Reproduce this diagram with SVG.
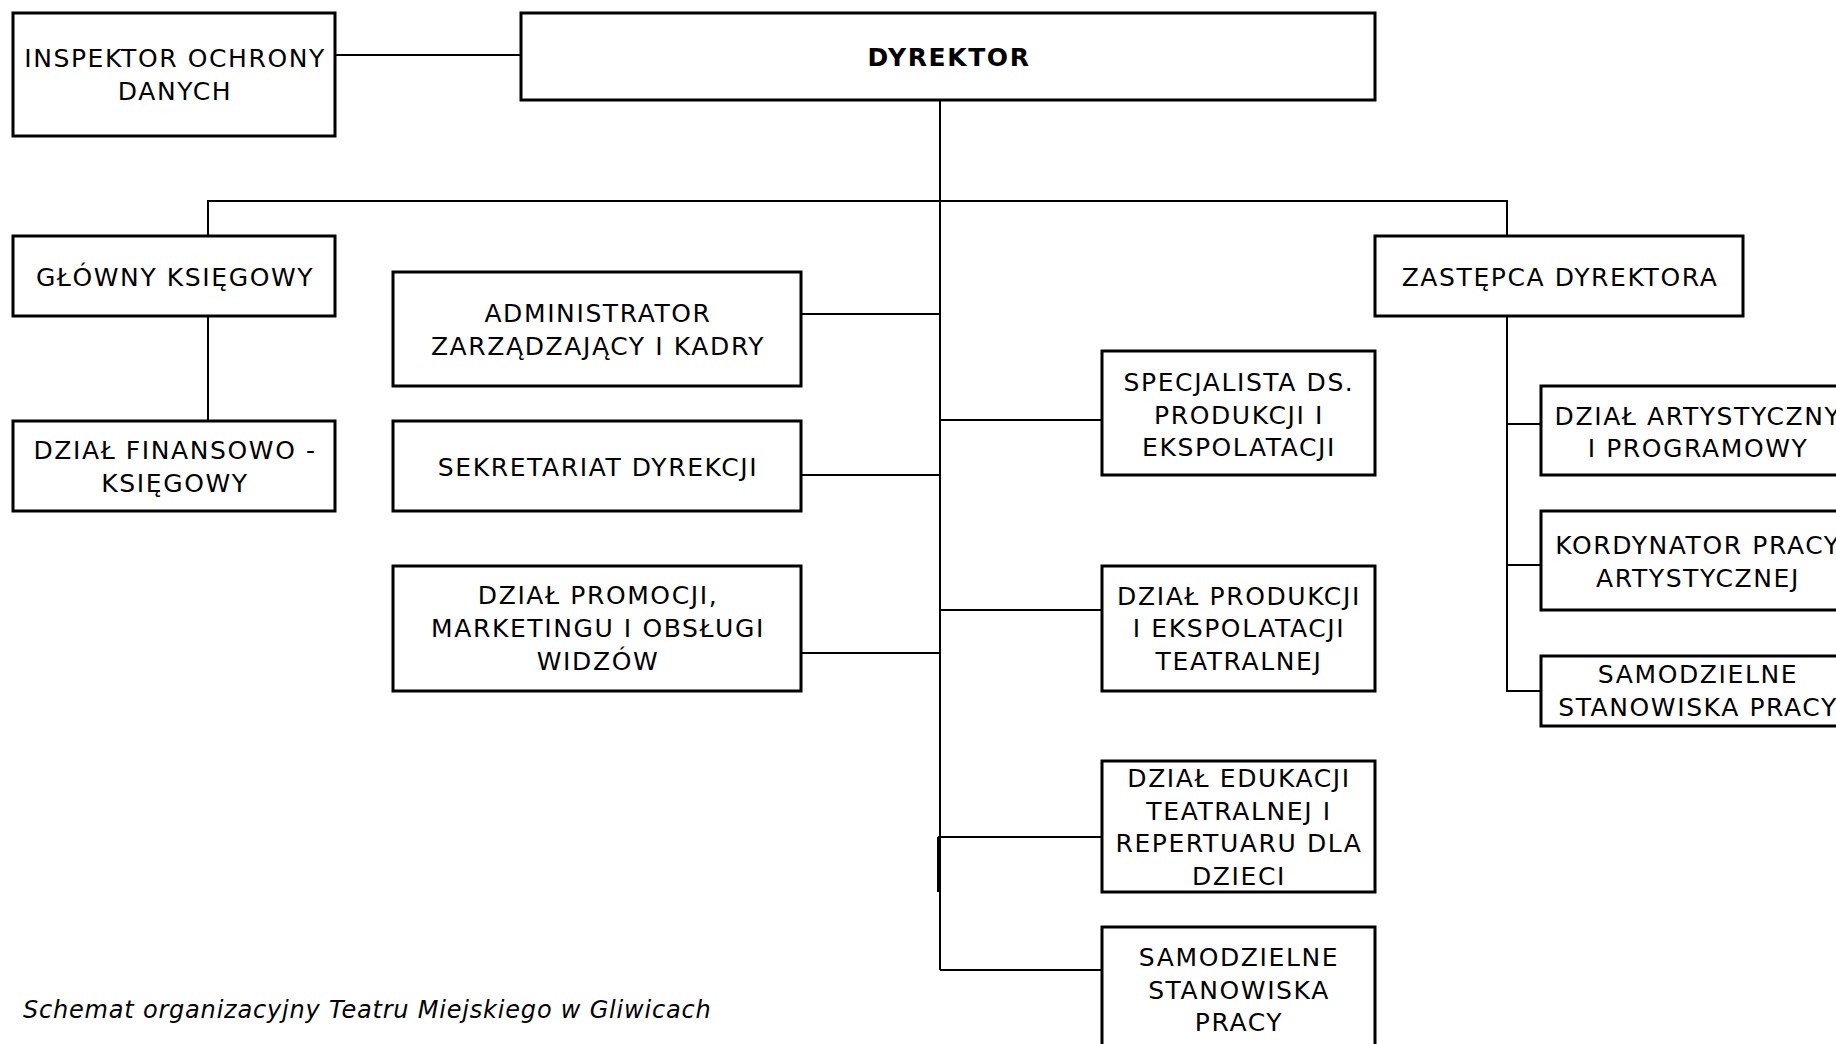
<svg xmlns="http://www.w3.org/2000/svg" width="1836" height="1044" viewBox="0 0 1836 1044">
<style>
.box{fill:#fff;stroke:#000;stroke-width:3}
.c{fill:none;stroke:#000;stroke-width:2}
text{font-family:"DejaVu Sans","Liberation Sans",sans-serif;font-size:25px;letter-spacing:1.6px;fill:#000;text-anchor:middle}
.b{font-weight:bold}
.cap{font-style:italic;text-anchor:start;font-size:24px;letter-spacing:0.8px}
</style>
<rect width="1836" height="1044" fill="#fff"/>
<g id="connectors">
<line class="c" x1="335" y1="55" x2="521" y2="55"/>
<line class="c" x1="940" y1="100" x2="940" y2="970"/>
<line class="c" x1="938" y1="837" x2="938" y2="892"/>
<polyline class="c" points="208,236 208,201 1507,201 1507,236"/>
<line class="c" x1="208" y1="316" x2="208" y2="421"/>
<line class="c" x1="801" y1="314" x2="940" y2="314"/>
<line class="c" x1="801" y1="475" x2="940" y2="475"/>
<line class="c" x1="801" y1="653" x2="940" y2="653"/>
<line class="c" x1="940" y1="420" x2="1102" y2="420"/>
<line class="c" x1="940" y1="610" x2="1102" y2="610"/>
<line class="c" x1="938" y1="837" x2="1102" y2="837"/>
<line class="c" x1="940" y1="970" x2="1102" y2="970"/>
<polyline class="c" points="1507,316 1507,691 1541,691"/>
<line class="c" x1="1507" y1="424" x2="1541" y2="424"/>
<line class="c" x1="1507" y1="565" x2="1541" y2="565"/>
</g>
<g id="inspektor"><rect class="box" x="13" y="13" width="322" height="123"/><text x="175" y="67">INSPEKTOR OCHRONY</text><text x="175" y="100">DANYCH</text></g>
<g id="dyrektor"><rect class="box" x="521" y="13" width="854" height="87"/><text class="b" x="949" y="66">DYREKTOR</text></g>
<g id="glowny"><rect class="box" x="13" y="236" width="322" height="80"/><text x="175" y="286">GŁÓWNY KSIĘGOWY</text></g>
<g id="finansowy"><rect class="box" x="13" y="421" width="322" height="90"/><text x="175" y="459">DZIAŁ FINANSOWO -</text><text x="175" y="492">KSIĘGOWY</text></g>
<g id="administrator"><rect class="box" x="393" y="272" width="408" height="114"/><text x="598" y="322">ADMINISTRATOR</text><text x="598" y="355">ZARZĄDZAJĄCY I KADRY</text></g>
<g id="sekretariat"><rect class="box" x="393" y="421" width="408" height="90"/><text x="598" y="476">SEKRETARIAT DYREKCJI</text></g>
<g id="promocja"><rect class="box" x="393" y="566" width="408" height="125"/><text x="598" y="604">DZIAŁ PROMOCJI,</text><text x="598" y="637">MARKETINGU I OBSŁUGI</text><text x="598" y="670">WIDZÓW</text></g>
<g id="specjalista"><rect class="box" x="1102" y="351" width="273" height="124"/><text x="1239" y="391">SPECJALISTA DS.</text><text x="1239" y="424">PRODUKCJI I</text><text x="1239" y="456">EKSPOLATACJI</text></g>
<g id="produkcja"><rect class="box" x="1102" y="566" width="273" height="125"/><text x="1239" y="605">DZIAŁ PRODUKCJI</text><text x="1239" y="637">I EKSPOLATACJI</text><text x="1239" y="670">TEATRALNEJ</text></g>
<g id="edukacja"><rect class="box" x="1102" y="761" width="273" height="131"/><text x="1239" y="787">DZIAŁ EDUKACJI</text><text x="1239" y="820">TEATRALNEJ I</text><text x="1239" y="852">REPERTUARU DLA</text><text x="1239" y="885">DZIECI</text></g>
<g id="samodzielne1"><rect class="box" x="1102" y="927" width="273" height="130"/><text x="1239" y="966">SAMODZIELNE</text><text x="1239" y="999">STANOWISKA</text><text x="1239" y="1031">PRACY</text></g>
<g id="zastepca"><rect class="box" x="1375" y="236" width="368" height="80"/><text x="1560" y="286">ZASTĘPCA DYREKTORA</text></g>
<g id="artystyczny"><rect class="box" x="1541" y="386" width="320" height="89"/><text x="1698" y="425">DZIAŁ ARTYSTYCZNY</text><text x="1698" y="457">I PROGRAMOWY</text></g>
<g id="kordynator"><rect class="box" x="1541" y="511" width="320" height="99"/><text x="1698" y="554">KORDYNATOR PRACY</text><text x="1698" y="587">ARTYSTYCZNEJ</text></g>
<g id="samodzielne2"><rect class="box" x="1541" y="656" width="320" height="70"/><text x="1698" y="683">SAMODZIELNE</text><text x="1698" y="716">STANOWISKA PRACY</text></g>
<text class="cap" x="23" y="1018">Schemat organizacyjny Teatru Miejskiego w Gliwicach</text>
</svg>
